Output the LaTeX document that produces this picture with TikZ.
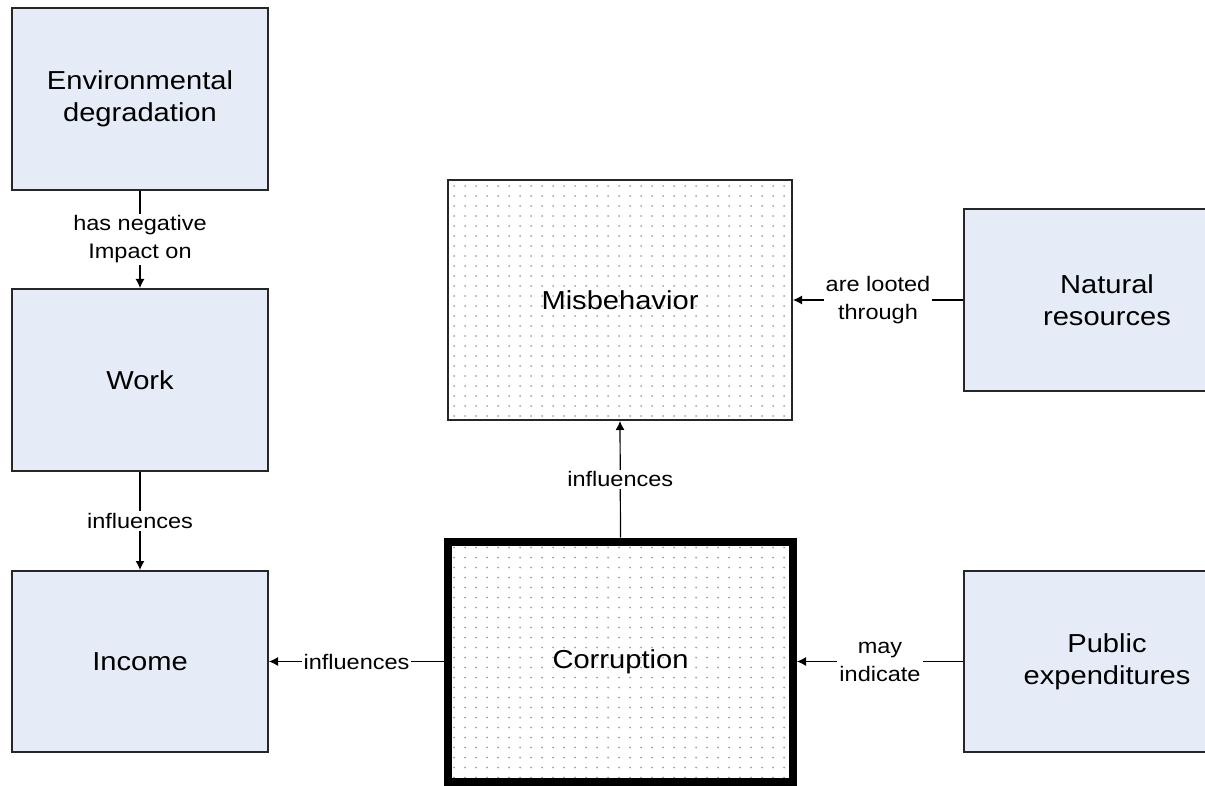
\documentclass[tikz,border=0pt]{standalone}
\usepackage{fontspec}
\setmainfont{Liberation Sans}[FakeStretch=1.12]
\usetikzlibrary{arrows.meta,calc}
\definecolor{boxfill}{RGB}{230,236,247}
\definecolor{dotgray}{RGB}{160,160,160}
\begin{document}
\begin{tikzpicture}[x=1pt,y=-1pt,
  conceptbox/.style={draw=black!85, line width=2pt, fill=boxfill, rectangle,
    align=center, font=\fontsize{26}{32}\selectfont, inner sep=0pt},
  dotbox/.style={draw=black!85, line width=2pt, fill=white, rectangle,
    align=center, font=\fontsize{26}{32}\selectfont, inner sep=0pt,
    path picture={
      \foreach \i in {0,...,32}{
        \foreach \j in {0,...,25}{
          \fill[dotgray] ($(path picture bounding box.north west)+(\i*11pt+6pt,-\j*10pt-6pt)$) circle (1pt);
        }
      }
    }},
  link/.style={line width=1.2pt, draw=black, -{Latex[length=9pt,width=9pt]}},
  linklabel/.style={fill=white, inner sep=2pt, align=center,
    font=\fontsize{21}{28}\selectfont},
]
\clip (0,0) rectangle (1205,786);
\fill[white] (0,0) rectangle (1205,786);

% left column
\node[conceptbox, minimum width=256pt, minimum height=182pt] (env) at (140,99) {Environmental\\degradation};
\node[conceptbox, minimum width=256pt, minimum height=182pt] (work) at (140,380) {Work};
\node[conceptbox, minimum width=256pt, minimum height=181pt] (income) at (140,661.5) {Income};

% central column
\node[dotbox, minimum width=344pt, minimum height=240pt] (mis) at (620,300) {Misbehavior};
\node[dotbox, line width=8pt, draw=black, minimum width=345pt, minimum height=240pt] (cor) at (620.5,661.5) {Corruption};

% right column, running off the page edge
\node[conceptbox, minimum width=286pt, minimum height=182pt] (nat) at (1107,300) {Natural\\resources};
\node[conceptbox, minimum width=286pt, minimum height=181pt] (pub) at (1107,661.5) {Public\\expenditures};

% connectors
\draw[link] (env.south) -- node[linklabel] {has negative\\Impact on} (work.north);
\draw[link] (work.south) -- node[linklabel] {influences} (income.north);
\draw[link] (cor.west) -- node[linklabel] {influences} (income.east);
\draw[link] (cor.north) -- node[linklabel] {influences} (mis.south);
\draw[link] (nat.west) -- node[linklabel] {are looted\\through} (mis.east);
\draw[link] (pub.west) -- node[linklabel] {may\\indicate} (cor.east);
\end{tikzpicture}
\end{document}
